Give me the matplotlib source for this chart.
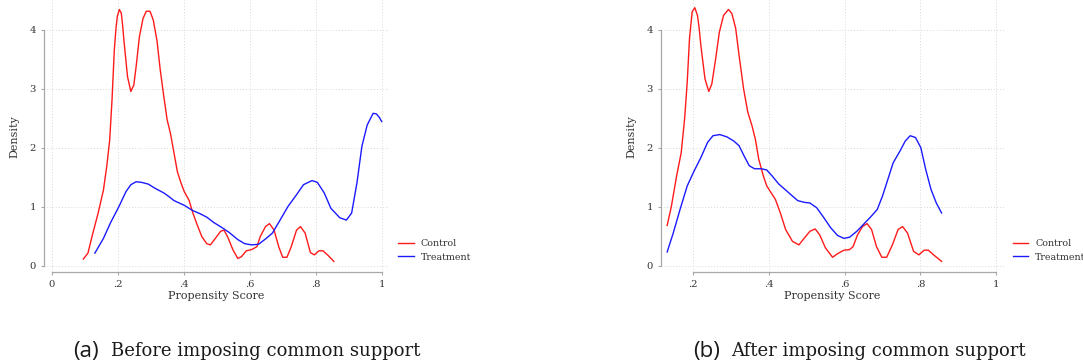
import matplotlib
matplotlib.use('Agg')
import matplotlib.pyplot as plt

SERIF = 'DejaVu Serif'
TEXT_COLOR = '#333333'
AXIS_COLOR = '#a8a8a8'
GRID_COLOR = '#d8d8d8'

# panel (a): before imposing common support
ctrl_a_x = [0.096, 0.11, 0.125, 0.141, 0.157, 0.167, 0.176, 0.183, 0.19, 0.195, 0.199,
            0.205, 0.211, 0.215, 0.219, 0.23, 0.24, 0.249, 0.256, 0.266, 0.277, 0.287,
            0.298, 0.308, 0.319, 0.329, 0.34, 0.35, 0.36, 0.371, 0.381, 0.392,
            0.402, 0.416, 0.428, 0.439, 0.455, 0.47, 0.481, 0.496, 0.512, 0.522,
            0.533, 0.549, 0.564, 0.575, 0.59, 0.606, 0.622, 0.632, 0.648, 0.66,
            0.674, 0.688, 0.7, 0.713, 0.726, 0.742, 0.754, 0.768, 0.784, 0.796,
            0.81, 0.822, 0.836, 0.855]
ctrl_a_y = [0.11, 0.21, 0.55, 0.89, 1.28, 1.68, 2.13, 2.81, 3.66, 4.02, 4.22,
            4.34, 4.28, 4.08, 3.82, 3.2, 2.95, 3.06, 3.37, 3.88, 4.19, 4.31,
            4.31, 4.16, 3.82, 3.32, 2.86, 2.47, 2.24, 1.9, 1.59, 1.4,
            1.25, 1.11, 0.89, 0.72, 0.49, 0.37, 0.35, 0.46, 0.58, 0.6,
            0.49, 0.27, 0.12, 0.15, 0.25, 0.27, 0.32, 0.49, 0.66, 0.71,
            0.6, 0.32, 0.14, 0.14, 0.32, 0.6, 0.66, 0.55, 0.22, 0.18,
            0.25, 0.25, 0.18, 0.07]

treat_a_x = [0.131, 0.157, 0.178, 0.204, 0.225, 0.24, 0.256, 0.272, 0.293, 0.313,
             0.34, 0.355, 0.371, 0.402, 0.428, 0.449, 0.47, 0.491, 0.517, 0.538,
             0.564, 0.585, 0.606, 0.627, 0.648, 0.669, 0.69, 0.716, 0.742, 0.763,
             0.789, 0.805, 0.826, 0.846, 0.873, 0.893, 0.909, 0.925, 0.94, 0.956,
             0.974, 0.984, 0.993, 1.0]
treat_a_y = [0.21, 0.46, 0.72, 1.0, 1.25, 1.37, 1.42, 1.41, 1.38, 1.31,
             1.23, 1.17, 1.1, 1.02, 0.93, 0.88, 0.82, 0.73, 0.64, 0.56,
             0.44, 0.37, 0.35, 0.36, 0.45, 0.55, 0.75, 1.0, 1.2, 1.37,
             1.44, 1.41, 1.23, 0.97, 0.81, 0.77, 0.89, 1.4, 2.02, 2.38,
             2.58, 2.57, 2.51, 2.44]

# panel (b): after imposing common support
ctrl_b_x = [0.131, 0.142, 0.156, 0.168, 0.177, 0.184, 0.19, 0.197, 0.204, 0.211, 0.215,
            0.22, 0.231, 0.241, 0.249, 0.259, 0.269, 0.28, 0.293, 0.302, 0.312,
            0.321, 0.333, 0.344, 0.355, 0.364, 0.373, 0.385, 0.394, 0.403, 0.417,
            0.43, 0.444, 0.462, 0.479, 0.494, 0.508, 0.522, 0.534, 0.549, 0.568,
            0.581, 0.598, 0.613, 0.622, 0.634, 0.647, 0.659, 0.671, 0.684, 0.698,
            0.711, 0.726, 0.741, 0.753, 0.766, 0.782, 0.796, 0.81, 0.821, 0.835,
            0.856]
ctrl_b_y = [0.68, 1.0, 1.52, 1.91, 2.48, 3.11, 3.85, 4.3, 4.37, 4.24, 4.05,
            3.73, 3.16, 2.95, 3.08, 3.5, 3.96, 4.24, 4.34, 4.27, 4.02,
            3.56, 2.99, 2.6, 2.37, 2.14, 1.8, 1.52, 1.35, 1.26, 1.12,
            0.89, 0.61, 0.41, 0.35, 0.47, 0.58, 0.62, 0.52, 0.3, 0.14,
            0.2, 0.26, 0.27, 0.32, 0.52, 0.66, 0.71, 0.61, 0.32, 0.14,
            0.14, 0.35, 0.61, 0.66, 0.55, 0.24, 0.18, 0.26, 0.26, 0.18,
            0.07]

treat_b_x = [0.131, 0.147, 0.165, 0.184, 0.202, 0.22, 0.238, 0.252, 0.27, 0.289,
             0.307, 0.321, 0.334, 0.348, 0.362, 0.38, 0.394, 0.408, 0.426, 0.444,
             0.458, 0.476, 0.494, 0.508, 0.526, 0.545, 0.563, 0.581, 0.598, 0.613,
             0.632, 0.65, 0.668, 0.686, 0.7, 0.714, 0.728, 0.746, 0.76, 0.773,
             0.787, 0.801, 0.814, 0.828, 0.842, 0.856]
treat_b_y = [0.23, 0.55, 0.95, 1.35, 1.6, 1.83, 2.09, 2.2, 2.22, 2.18,
             2.11, 2.03, 1.86, 1.69, 1.64, 1.64, 1.62, 1.52, 1.38, 1.28,
             1.2, 1.1, 1.07, 1.06, 0.98, 0.81, 0.64, 0.51, 0.46, 0.48,
             0.58, 0.7, 0.82, 0.95, 1.18, 1.46, 1.74, 1.94, 2.11, 2.2,
             2.17, 2.0, 1.63, 1.29, 1.06, 0.89]

y_ticks = [0, 1, 2, 3, 4]
x_ticks_a = [0, 0.2, 0.4, 0.6, 0.8, 1]
x_ticks_b = [0.2, 0.4, 0.6, 0.8, 1]
series_labels = ['Control', 'Treatment']
captions = [('(a)', 'Before imposing common support'),
            ('(b)', 'After imposing common support')]


def fmt_tick(v):
    if v == 0:
        return '0'
    if v == 1:
        return '1'
    return '.{}'.format(int(round(v * 10)))


def make_panel(fig, rect, xlim, xticks, cx, cy, tx, ty, legend_xy):
    ax = fig.add_axes(rect)
    ax.set_xlim(*xlim)
    ax.set_ylim(-0.115, 4.5)

    for v in y_ticks:
        ax.axhline(v, color=GRID_COLOR, lw=0.7, ls=(0, (1, 2)), zorder=0)
    for v in xticks:
        ax.axvline(v, color=GRID_COLOR, lw=0.7, ls=(0, (1, 2)), zorder=0)

    ax.plot(cx, cy, color='#ff1a1a', lw=1.0, solid_joinstyle='round',
            label=series_labels[0])
    ax.plot(tx, ty, color='#1a1aff', lw=1.0, solid_joinstyle='round',
            label=series_labels[1])

    for side in ('top', 'right'):
        ax.spines[side].set_visible(False)
    for side in ('left', 'bottom'):
        ax.spines[side].set_color(AXIS_COLOR)
        ax.spines[side].set_linewidth(0.9)
    ax.spines['left'].set_bounds(0, 4)
    ax.spines['bottom'].set_bounds(xticks[0], xticks[-1])

    ax.set_yticks(y_ticks)
    ax.set_yticklabels([str(v) for v in y_ticks])
    ax.set_xticks(xticks)
    ax.set_xticklabels([fmt_tick(v) for v in xticks])
    ax.tick_params(length=2.5, width=0.8, color=AXIS_COLOR, labelcolor=TEXT_COLOR,
                   labelsize=7.2, pad=3.2)
    for lab in ax.get_xticklabels() + ax.get_yticklabels():
        lab.set_family(SERIF)

    ax.set_xlabel('Propensity Score', family=SERIF, fontsize=8, color=TEXT_COLOR)
    ax.set_ylabel('Density', family=SERIF, fontsize=8, color=TEXT_COLOR)
    ax.xaxis.set_label_coords(0.5, -0.07)
    ax.yaxis.set_label_coords(-0.07, 0.5)

    ax.legend(loc='upper left', bbox_to_anchor=legend_xy, bbox_transform=fig.transFigure,
              frameon=False, prop={'family': SERIF, 'size': 6.8},
              handlelength=1.65, handletextpad=0.75, labelspacing=0.5,
              borderpad=0, borderaxespad=0, labelcolor=TEXT_COLOR)
    return ax


fig = plt.figure(figsize=(10.83, 3.64), dpi=100)

make_panel(fig, [0.04035, 0.2519, 0.3191, 0.748], (-0.024, 1.023), x_ticks_a,
           ctrl_a_x, ctrl_a_y, treat_a_x, treat_a_y, (398 / 1083, 1 - 239 / 364))
make_panel(fig, [0.6101, 0.2519, 0.3170, 0.748], (0.114, 1.021), x_ticks_b,
           ctrl_b_x, ctrl_b_y, treat_b_x, treat_b_y, (1012.7 / 1083, 1 - 239 / 364))

cap_y = 1 - 351 / 364
for (tag, text), x0 in zip(captions, [73 / 1083, 693 / 1083]):
    fig.text(x0, cap_y, tag, family='Open Sans', fontsize=16, color='#1a1a1a',
             ha='left', va='center')
    fig.text(x0 + 38 / 1083, cap_y, text, family=SERIF, fontsize=13,
             color='#1a1a1a', ha='left', va='center')

fig.savefig('out.png', dpi=100)
